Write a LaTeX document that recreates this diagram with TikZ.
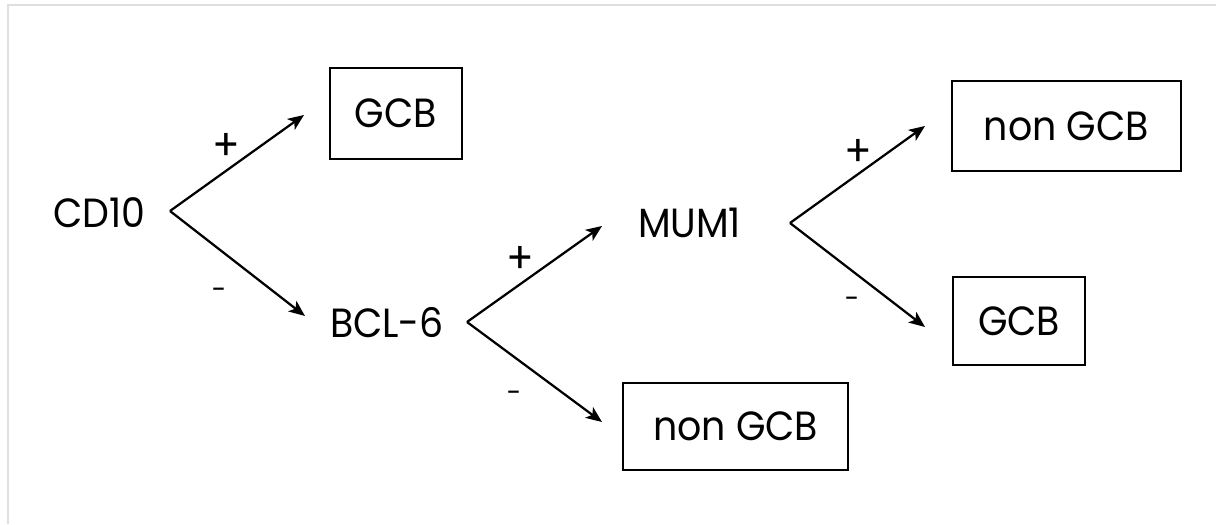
\documentclass[tikz,border=0pt]{standalone}
\usepackage{fontspec}
\setmainfont[FakeStretch=0.93]{Poppins}
\usetikzlibrary{arrows.meta}
\begin{document}
\begin{tikzpicture}[>={Stealth[length=4mm,width=3.3mm,inset=1mm]},
    font=\fontsize{29}{34}\selectfont,
    caja/.style={draw, line width=1.5pt, minimum width=#1, minimum height=2.2cm, inner sep=0pt},
    flecha/.style={->, line width=1.6pt},
    signo/.style={font=\fontsize{31}{34}\selectfont, inner sep=0pt},
    signom/.style={font=\fontsize{20}{24}\selectfont, inner sep=0pt}]
    \useasboundingbox (0,0) rectangle (30.4,13.1);
    \draw[gray!25, line width=1.4pt] (0.2,0) |- (30.4,12.975);

    % Marcadores y resultados
    \node (cd10) at (2.49,7.79) {CD10};
    \node[caja=3.3cm, minimum height=2.275cm] (gcbA) at (9.9,10.26) {GCB};
    \node (bcl6) at (9.675,5.04) {BCL-6};
    \node (mum1) at (17.24,7.525) {MUM1};
    \node[caja=5.625cm, minimum height=2.175cm] (nongcbA) at (18.39,2.44) {non GCB};
    \node[caja=5.725cm, minimum height=2.25cm] (nongcbB) at (26.66,9.95) {non GCB};
    \node[caja=3.3cm] (gcbB) at (25.475,5.075) {GCB};

    % Bifurcaciones
    \coordinate (f1) at (4.25,7.825);
    \coordinate (f2) at (11.675,5.05);
    \coordinate (f3) at (19.75,7.525);
    \coordinate (t1) at (7.6,10.225);
    \coordinate (t2) at (7.625,5.2);
    \coordinate (t3) at (15.05,7.45);
    \coordinate (t4) at (15.05,2.55);
    \coordinate (t5) at (23.125,9.95);
    \coordinate (t6) at (23.125,4.925);

    \draw[flecha] (f1) -- (t1);
    \draw[flecha] (f1) -- (t2);
    \draw[flecha] (f2) -- (t3);
    \draw[flecha] (f2) -- (t4);
    \draw[flecha] (f3) -- (t5);
    \draw[flecha] (f3) -- (t6);

    % Signos
    \node[signo] (masA) at (5.65,9.425) {+};
    \node[signom] (menosA) at (5.475,5.75) {-};
    \node[signo] (masB) at (13.0,6.6) {+};
    \node[signom] (menosB) at (12.85,3.175) {-};
    \node[signo] (masC) at (21.45,9.275) {+};
    \node[signom] (menosC) at (21.3,5.525) {-};

\end{tikzpicture}
\end{document}
